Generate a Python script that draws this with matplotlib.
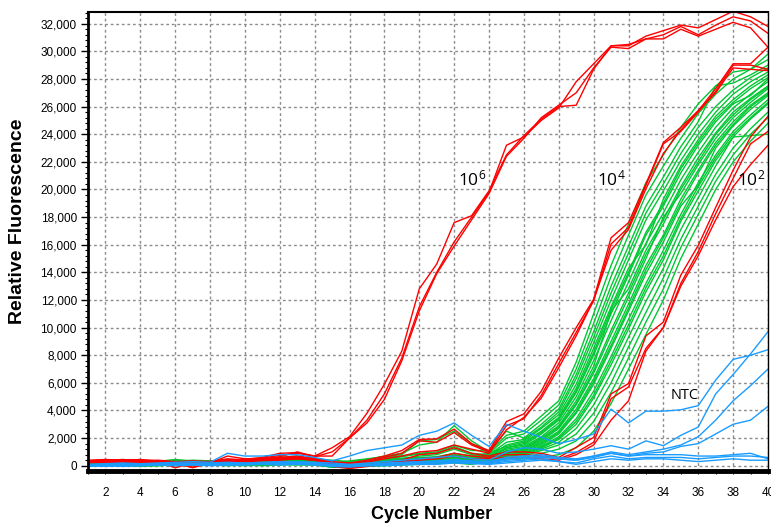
import matplotlib
matplotlib.use('Agg')
import matplotlib.pyplot as plt
from matplotlib.ticker import MultipleLocator, StrMethodFormatter

cycles = list(range(1, 41))

# 10^6 standard (red, three replicates)
r6_a = [300,450,400,450,350,250,-100,200,700,500,550,750,900,700,1300,2100,3800,5900,8300,12800,14600,17600,18100,19900,22500,23900,25100,26000,26100,28700,30400,30400,31100,31500,31900,31700,32300,32900,32500,31800]
r6_b = [350,400,350,400,300,200,150,300,500,400,500,650,1000,650,1000,2000,3300,5200,7800,11500,14000,16200,18000,19800,23200,23800,25000,25900,27800,29100,30400,30500,30900,31200,31800,31200,31900,32500,32200,31300]
r6_c = [250,350,300,350,300,-150,200,250,450,450,600,900,950,700,700,2000,3100,4800,7600,11200,13900,15900,17800,19700,22400,23700,25200,26100,27000,28800,30300,30200,30900,30900,31600,31100,31600,32100,31700,30300]

# 10^4 standard (red)
r4_a = [350,400,450,350,400,300,350,300,400,450,500,550,600,500,300,200,400,700,1100,1900,1950,2650,1600,1100,3200,3750,5400,7800,10000,12050,16500,17600,20400,23400,24500,25700,27300,29100,29100,30300]
r4_b = [300,350,400,400,350,250,300,250,350,400,450,500,550,450,250,150,300,600,900,1800,1700,2400,1500,1000,2900,3400,5100,7400,9650,11950,16050,17250,20300,23300,24200,25600,27100,29000,29000,28700]
r4_c = [250,300,350,300,300,200,250,300,300,350,400,450,500,400,200,100,250,500,700,1000,1100,1500,1200,900,2600,3500,4900,7100,9400,12000,15600,17100,20050,22600,24300,25700,27000,28800,28700,28600]

# 10^2 standard (red)
r2_a = [400,450,350,300,350,200,-150,200,350,400,450,600,700,550,100,-100,50,200,400,800,900,1300,900,700,1000,1000,900,600,1330,2050,5200,5950,9400,10400,13800,15950,18700,21400,23800,25300]
r2_b = [300,350,300,250,300,150,100,250,300,350,400,500,600,500,0,-150,0,150,300,500,600,900,700,600,800,800,700,500,960,1700,4850,5700,8500,10000,13200,15500,18250,20800,23300,24200]
r2_c = [200,250,200,250,200,100,50,150,250,300,350,400,500,400,-50,-200,-50,100,200,400,500,700,500,500,600,600,500,400,800,1500,3300,4700,8300,10000,13000,15200,17800,20200,21800,23200]

# samples (green)
g01 = [300,350,400,300,350,400,300,350,400,350,450,500,550,500,400,300,450,700,900,1500,1700,2900,1800,1000,2200,2500,3600,4700,7500,11000,14500,17500,20500,22500,24500,26200,27500,28500,28700,29800]
g02 = [250,300,450,350,300,450,350,300,350,400,500,600,700,450,200,350,500,650,800,1800,1900,2500,1600,900,2000,2300,3300,4400,7000,10300,13700,16700,19600,21700,23700,25500,26900,28000,28700,29400]
g03 = [200,250,300,200,250,300,250,200,300,350,400,450,500,400,100,200,300,600,700,900,1000,1500,1100,1100,2500,2000,3000,4100,6600,9700,13000,15900,18800,20900,23100,24900,27500,27700,28300,29000]
g04 = [150,200,250,300,200,350,200,250,350,300,350,400,450,350,0,150,250,500,650,850,900,1400,900,800,1700,1900,2800,3900,6300,9300,12500,15400,18300,20400,22600,24500,26000,27200,28100,28800]
g05 = [100,150,200,250,150,250,300,200,250,300,250,350,400,300,-50,100,200,400,500,700,800,1200,800,700,1500,1800,2700,3700,5900,8900,12000,14900,17800,19900,22100,24000,25600,26900,27800,28500]
g06 = [350,300,250,300,350,300,400,350,300,250,300,400,350,300,200,250,300,450,550,600,650,900,700,900,1400,1700,2500,3500,5600,8500,11500,14300,16000,19300,21700,23600,25300,26500,27500,28300]
g07 = [200,300,350,250,300,250,350,300,250,200,250,300,400,350,150,100,200,300,400,500,600,800,600,600,1300,1500,2300,3300,5300,8000,11000,13800,16700,18800,21200,23200,24900,26200,26800,28000]
g08 = [300,250,200,300,250,200,250,300,350,300,200,250,300,250,100,50,150,250,350,450,500,700,500,700,1200,1400,2100,3100,5000,7600,10500,13300,16100,18300,20700,22700,24500,25900,26900,27800]
g09 = [150,100,200,150,200,250,200,150,200,250,300,350,300,200,50,0,100,200,300,400,450,650,450,600,1100,1300,2000,2900,4700,7200,11200,12800,15600,17800,20200,22300,24100,25600,26600,27500]
g10 = [250,200,150,200,250,200,150,250,300,200,250,300,250,200,100,50,150,200,250,350,400,600,400,500,1000,1200,1800,2700,4400,6700,9500,12200,15000,18000,19700,21800,23700,25200,26300,27300]
g11 = [100,150,100,150,100,200,250,150,200,150,200,250,200,150,50,0,100,150,200,300,350,500,350,600,900,1100,1700,2500,4100,6300,9000,11700,14500,16700,19300,21400,23400,24900,26100,27000]
g12 = [200,150,250,200,150,100,200,250,200,250,200,150,200,250,0,-50,50,150,250,300,300,450,300,500,900,1000,1500,2300,3800,5900,8500,11200,13900,16200,18800,20300,23000,24600,25800,26800]
g13 = [50,100,150,100,50,150,100,50,100,150,100,200,150,100,-100,-50,50,100,150,250,300,400,250,400,800,900,1400,2100,3400,5400,7900,10600,13200,15600,18200,20500,22500,24200,25400,26500]
g14 = [150,100,50,100,150,100,50,100,150,200,150,100,150,200,0,0,100,150,200,200,250,350,250,500,700,900,1300,1900,3000,4900,7300,9900,12600,14900,17700,19900,22100,23800,25100,26200]
g15 = [0,50,100,50,0,100,150,100,50,100,150,100,50,100,-50,-100,0,50,100,150,200,300,200,400,700,800,1200,1700,2700,4400,6700,9300,11900,14300,17100,19400,21700,23800,23900,24000]
g16 = [100,50,0,50,100,50,0,50,100,50,100,150,100,50,-100,-50,50,100,150,200,250,300,200,300,600,700,1100,1500,2300,3800,6000,8600,11100,13600,16400,18800,21100,23000,24400,25600]
g17 = [50,0,50,100,50,0,50,100,50,0,50,100,150,100,-50,-100,0,50,100,150,150,250,150,400,500,600,900,1200,1800,3200,5300,7800,10400,12800,15800,18200,20600,22500,24000,25200]
g18 = [0,50,0,-50,0,50,100,50,0,50,0,50,100,50,-100,-150,-50,0,50,100,150,200,100,300,500,500,600,800,1300,2500,4500,7000,9500,12000,15000,17500,20000,22000,23500,24800]
g19 = [100,200,250,200,150,200,250,300,200,250,300,350,300,250,100,150,250,350,450,550,600,750,550,700,1300,1600,2400,3400,5400,8200,11300,14000,16900,19000,21500,23400,25100,26300,27300,28100]
g20 = [200,150,100,150,200,150,100,150,200,250,200,250,300,200,50,0,100,200,250,300,350,500,350,500,1000,1250,1900,2800,4500,6900,9800,12500,15300,17500,20000,22000,24000,25400,26500,27400]
g21 = [50,100,150,200,150,100,150,200,150,100,150,200,250,150,0,-50,50,100,200,250,300,400,300,600,900,1100,1600,2400,3900,6100,8700,11400,14200,16500,19000,21200,23200,24700,26000,26900]
g22 = [100,150,100,50,100,150,100,150,100,150,200,150,100,150,-50,0,50,150,200,250,250,350,250,400,800,900,1300,2000,3200,5100,7600,10200,12900,15200,17900,20200,22300,24000,25200,26300]

# no-template controls (blue)
ntc_a = [100,150,200,150,200,250,300,250,900,700,700,800,800,600,350,700,1100,1300,1500,2200,2500,3100,2200,1400,3000,2500,2050,1600,1900,2300,4100,3100,3950,3950,4050,4350,6200,7700,8000,8400]
ntc_b = [50,100,150,100,150,200,200,200,250,200,250,300,300,250,200,100,200,300,400,500,600,700,500,400,1000,1300,1200,900,1000,1200,1450,1200,1800,1450,2200,2800,5200,6600,8100,9700]
ntc_c = [0,50,100,50,100,150,100,150,200,150,200,250,200,150,100,50,100,200,250,300,350,450,350,300,600,700,800,600,500,700,1000,800,1000,1200,1500,2100,3300,4700,5800,7000]
ntc_d = [100,0,50,100,50,100,150,100,150,100,150,200,250,200,50,0,50,150,200,250,300,400,300,250,500,600,700,500,400,600,900,700,900,1000,1400,1600,2300,3000,3300,4300]
ntc_e = [-50,50,0,50,100,50,100,50,100,150,100,150,200,150,0,-50,50,100,150,200,250,300,250,200,400,500,600,500,400,700,900,700,800,800,800,700,700,800,900,500]
ntc_f = [0,-50,50,0,50,100,50,100,50,100,150,100,150,100,50,0,0,50,100,150,200,250,200,150,300,400,500,300,200,500,700,500,600,600,600,500,600,700,700,600]
ntc_g = [50,0,-50,0,50,0,50,0,50,50,100,50,100,50,-50,-100,0,0,50,100,100,200,150,100,200,300,400,300,100,300,500,400,500,500,400,300,400,500,400,400]

green_curves = [g01, g02, g03, g04, g05, g06, g07, g08, g09, g10, g11,
                g12, g13, g14, g15, g16, g17, g18, g19, g20, g21, g22]
red_curves = [r6_a, r6_b, r6_c, r4_a, r4_b, r4_c, r2_a, r2_b, r2_c]
blue_curves = [ntc_a, ntc_b, ntc_c, ntc_d, ntc_e, ntc_f, ntc_g]

plt.rcParams['font.family'] = ['Liberation Sans', 'DejaVu Sans']

fig = plt.figure(figsize=(7.71, 5.25), dpi=100)
ax = fig.add_axes([0.1141, 0.1029, 0.8820, 0.8743])

for y in green_curves:
    ax.plot(cycles, y, color='#00c832', linewidth=1.0)
for y in red_curves:
    ax.plot(cycles, y, color='#ff0000', linewidth=1.0)
for y in blue_curves:
    ax.plot(cycles, y, color='#1a9cff', linewidth=1.0)

ax.set_xlim(1, 40)
ax.set_ylim(-380, 32850)

ax.xaxis.set_major_locator(MultipleLocator(2))
ax.xaxis.set_minor_locator(MultipleLocator(1))
ax.yaxis.set_major_locator(MultipleLocator(2000))
ax.yaxis.set_minor_locator(MultipleLocator(400))
ax.yaxis.set_major_formatter(StrMethodFormatter('{x:,.0f}'))

ax.grid(True, which='major', color='#8c8c8c', linestyle=(0, (2, 2)), linewidth=1.0)
ax.set_axisbelow(True)

ax.tick_params(axis='y', which='major', direction='out', length=5, width=1, pad=3, labelsize=8.5)
ax.tick_params(axis='y', which='minor', direction='out', length=2.5, width=0.8)
ax.tick_params(axis='x', which='both', direction='out', length=2.5, width=0.8, pad=9, labelsize=8.5)

ax.spines['bottom'].set_linewidth(3.5)
ax.spines['left'].set_linewidth(2.0)
ax.spines['top'].set_linewidth(1.5)
ax.spines['right'].set_linewidth(1.0)

ax.set_xlabel('Cycle Number', fontsize=13, fontweight='bold', va='center')
ax.xaxis.set_label_coords(0.506, -0.094)
ax.set_ylabel('Relative Fluorescence', fontsize=14, fontweight='bold', va='center')
ax.yaxis.set_label_coords(-0.103, 0.545)

# dilution labels
lab = dict(fontsize=12.5, family='Open Sans', va='baseline', ha='left')
ax.text(22.2, 20300, r'$\mathregular{10^{6}}$', **lab)
ax.text(30.2, 20300, r'$\mathregular{10^{4}}$', **lab)
ax.text(38.2, 20300, r'$\mathregular{10^{2}}$', **lab)
ax.text(34.4, 4850, 'NTC', fontsize=10.5, family='Open Sans', va='baseline', ha='left')

plt.savefig('out.png', dpi=100)
